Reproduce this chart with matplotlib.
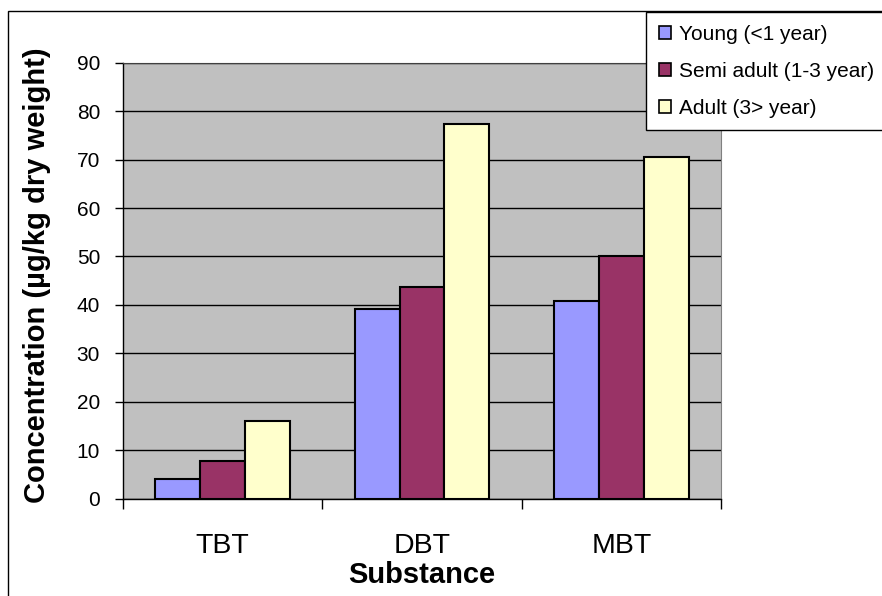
import matplotlib
matplotlib.use("Agg")
import matplotlib.pyplot as plt
from matplotlib.patches import Rectangle
import numpy as np

plt.rcParams['font.family'] = ['Liberation Sans', 'DejaVu Sans']

categories = ["TBT", "DBT", "MBT"]
series_names = ["Young (<1 year)", "Semi adult (1-3 year)", "Adult (3> year)"]
young = [4.1, 39.2, 40.8]
semi_adult = [7.8, 43.8, 50.0]
adult = [16.1, 77.3, 70.6]
y_ticks = [0, 10, 20, 30, 40, 50, 60, 70, 80, 90]

colors = ["#9999FF", "#993366", "#FFFFCC"]
W, H = 882, 596
fig = plt.figure(figsize=(W / 100, H / 100), dpi=100)
ax = fig.add_axes([123 / W, 1 - 498.7 / H, (721 - 123) / W, (498.7 - 62.7) / H])
ax.set_facecolor("#C0C0C0")

x = np.arange(len(categories)) + 0.5
bw = 0.225
for i, (vals, name) in enumerate(zip([young, semi_adult, adult], series_names)):
    ax.bar(x + (i - 1) * bw, vals, width=bw, color=colors[i], edgecolor="black",
           linewidth=1.5, label=name, zorder=3)

ax.set_xlim(0, 3)
ax.set_ylim(0, 90)
ax.set_yticks(y_ticks)
ax.yaxis.grid(True, color="black", linewidth=1, zorder=1)
ax.set_axisbelow(True)
ax.tick_params(axis="y", direction="out", length=6, width=1, labelsize=15, pad=10.5)

ax.set_xticks([0, 1, 2, 3])
ax.set_xticklabels([])
ax.tick_params(axis="x", which="major", direction="out", length=7, width=1)
ax.set_xticks(x, minor=True)
ax.set_xticklabels(categories, minor=True)
ax.tick_params(axis="x", which="minor", length=0, labelsize=20.5, pad=25)

for s in ["left", "bottom"]:
    ax.spines[s].set_color("black")
    ax.spines[s].set_linewidth(1)
ax.spines["top"].set_color("#404040")
ax.spines["right"].set_color("#808080")

ax.set_xlabel("Substance", fontsize=21, fontweight="bold", labelpad=1)
ax.set_ylabel("Concentration (\u00b5g/kg dry weight)", fontsize=21, fontweight="bold")
ax.yaxis.set_label_coords(-0.12, 0.513)

leg = ax.legend(loc="upper left", bbox_to_anchor=(646 / W, 1 - 12 / H),
                bbox_transform=fig.transFigure, fontsize=15, frameon=True,
                fancybox=False, edgecolor="black", framealpha=1,
                handlelength=0.6, handleheight=0.6, handletextpad=0.4,
                borderpad=0.6, labelspacing=0.87, borderaxespad=0)
leg.get_frame().set_linewidth(1)
for h in leg.legend_handles:
    h.set_linewidth(1.2)

fig.patches.append(Rectangle((8 / W, -0.1), 1.2, 1.1 - 11 / H, transform=fig.transFigure,
                             fill=False, edgecolor="black", linewidth=1))

fig.savefig("out.png", dpi=100)
